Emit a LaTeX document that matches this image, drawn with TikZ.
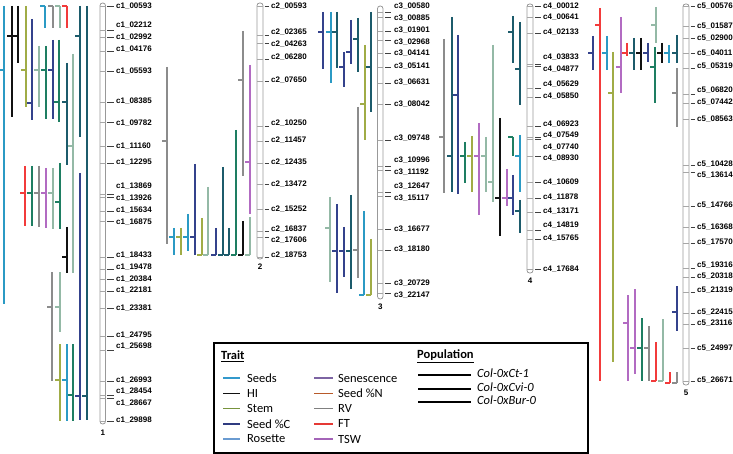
\documentclass[tikz,border=0pt]{standalone}
\usepackage{fontspec}
\setmainfont{Carlito}
\newfontfamily\mkfont{Liberation Sans}
\usetikzlibrary{positioning}

\definecolor{seeds}{HTML}{2B9AC4}
\definecolor{hi}{HTML}{111111}
\definecolor{stem}{HTML}{A0AC46}
\definecolor{seedc}{HTML}{34428C}
\definecolor{teal}{HTML}{1C5B6B}
\definecolor{grn}{HTML}{1E7E62}
\definecolor{sage}{HTML}{94B9A6}
\definecolor{rv}{HTML}{8C8C8C}
\definecolor{ft}{HTML}{F23B3B}
\definecolor{tsw}{HTML}{B26BC2}
% legend colours
\definecolor{kseeds}{HTML}{3399CC}
\definecolor{kstem}{HTML}{77933C}
\definecolor{kseedc}{HTML}{2F3B80}
\definecolor{kros}{HTML}{6A9BD1}
\definecolor{ksen}{HTML}{7D64A3}
\definecolor{kseedn}{HTML}{B85A2A}
\definecolor{krv}{HTML}{808080}
\definecolor{kft}{HTML}{E53935}
\definecolor{ktsw}{HTML}{A464B8}

\begin{document}
\begin{tikzpicture}[x=1pt, y=-1pt,
  chrom/.style={draw=gray!80, fill=white, line width=0.8pt, rounded corners=2.6pt},
  mk/.style={draw=gray!70, line width=0.7pt},
  lead/.style={draw=black!75, line width=0.6pt},
  lbl/.style={anchor=west, inner sep=0pt, font=\mkfont\bfseries\fontsize{8}{9}\selectfont},
  num/.style={inner sep=0pt, font=\mkfont\bfseries\fontsize{8}{9}\selectfont},
  qtl/.style={draw=#1, line width=1.7pt},
  key/.style={draw=#1, line width=1.5pt},
  ktxt/.style={anchor=west, inner sep=0pt, font=\fontsize{12.5}{14}\selectfont}
]
\useasboundingbox (0,0) rectangle (733,454);

% ---- Chromosome 1 ----
\draw[chrom] (100,3) rectangle (105.5,424);
\foreach \ty/\ly/\nm in {6/6/00593, 30/25/02212, 37/37/02992, 51/49/04176, 71/71/05593,
    102/101/08385, 122/123/09782, 146/146/11160, 163/162/12295, 194/186/13869,
    197/198/13926, 211/210/15634, 221/222/16875, 257/255/18433, 269/267/19478,
    279/279/20384, 291/290/22181, 308/308/23381, 336/335/24795, 350/346/25698,
    381/380/26993, 395/391/28454, 398/403/28667, 421/420/29898} {
  \draw[mk] (100,\ty) -- (105.5,\ty);
  \draw[lead] (107,\ty) -- (114,\ty);
  \node[lbl] (c1-\nm) at (116,\ly) {c1\_\nm};
}
\node[num] (chr1) at (102.8,433) {1};

\foreach \x/\ya/\yb/\yp/\c in {4/6/304/70/seeds, 12/6/117/36/hi, 18/6/63/36/hi,
    26/6/107/70/stem, 32/19/120/103/seedc, 45/6/28/6/seeds, 53/6/28/6/rv,
    60/6/28/6/sage, 67/6/28/6/ft, 39/46/107/70/sage, 46/46/119/70/grn,
    53/40/119/70/seedc, 59/40/122/102/grn, 67/63/165/102/teal, 73/54/273/146/sage,
    80/6/137/36/teal, 80/173/420/396/seedc, 87/6/420/396/teal,
    25/166/226/193/ft, 32/166/226/193/grn, 39/166/227/193/rv, 46/168/228/193/tsw,
    53/168/229/193/sage, 60/163/229/202/grn, 67/227/273/257/hi,
    52/272/381/307/rv, 60/272/332/307/sage, 60/344/421/380/stem,
    67/344/421/380/seeds, 73/344/421/395/grn} {
  \draw[qtl=\c] (\x,\ya) -- (\x,\yb) (\x,\yp) -- ++(-5,0);
}

% ---- Chromosome 2 ----
\draw[chrom] (257,3) rectangle (263,259);
\foreach \ty/\ly/\nm in {6/6/00593, 35/32/02365, 43/44/04263, 59/57/06280, 81/80/07650,
    126/123/10250, 141/140/11457, 163/162/12435, 184/184/13472, 209/209/15252,
    231/229/16837, 237/240/17606, 257/255/18753} {
  \draw[mk] (257,\ty) -- (263,\ty);
  \draw[lead] (264.5,\ty) -- (269,\ty);
  \node[lbl] (c2-\nm) at (271,\ly) {c2\_\nm};
}
\node[num] (chr2) at (260,267) {2};

\foreach \x/\ya/\yb/\yp/\c in {167/67/244/141/rv, 174/228/255/237/seeds,
    181/228/255/237/stem, 188/214/251/237/seeds, 195/164/255/237/seedc,
    202/218/255/255/stem, 208/187/255/255/sage, 216/228/255/255/seedc,
    223/167/255/255/teal, 229/228/255/255/teal, 236/130/255/255/grn,
    243/221/255/255/hi, 243/31/176/80/rv, 250/65/214/162/tsw, 250/217/255/255/sage} {
  \draw[qtl=\c] (\x,\ya) -- (\x,\yb) (\x,\yp) -- ++(-5,0);
}

% ---- Chromosome 3 ----
\draw[chrom] (377.5,6) rectangle (383,299);
\foreach \ty/\ly/\nm in {12/6/00580, 17/18/00885, 31/30/01901, 40/42/02968, 53/53/04141,
    67/66/05141, 83/82/06631, 104/104/08042, 140/138/09748, 166/160/10996,
    170/172/11192, 192/186/12647, 196/198/15117, 229/229/16677, 250/249/18180,
    283/283/20729, 293/295/22147} {
  \draw[mk] (377.5,\ty) -- (383,\ty);
  \draw[lead] (385,\ty) -- (391,\ty);
  \node[lbl] (c3-\nm) at (394,\ly) {c3\_\nm};
}
\node[num] (chr3) at (380.3,307) {3};

\foreach \x/\ya/\yb/\yp/\c in {323/12/69/32/seedc, 331/12/83/32/seeds,
    337/12/68/32/teal, 344/52/87/67/seedc, 351/20/64/52/seedc, 358/18/72/39/teal,
    365/45/140/104/stem, 371/12/112/67/teal, 358/107/278/250/rv,
    330/197/282/228/sage, 337/204/293/251/seedc, 344/227/277/251/seedc,
    351/195/289/251/teal, 364/211/295/295/seeds, 371/239/295/295/stem,
    444/39/193/137/rv} {
  \draw[qtl=\c] (\x,\ya) -- (\x,\yb) (\x,\yp) -- ++(-5,0);
}

% ---- Chromosome 4 ----
\draw[chrom] (527,4) rectangle (533,273);
\foreach \ty/\ly/\nm in {6/6/00012, 17/17/00641, 33/32/02133, 64/57/03833, 66/69/04877,
    88/84/05629, 97/96/05850, 126/124/06923, 137/135/07549, 139/147/07740,
    156/158/08930, 182/182/10609, 198/197/11878, 212/211/13171, 230/225/14819,
    239/238/15765, 269/269/17684} {
  \draw[mk] (527,\ty) -- (533,\ty);
  \draw[lead] (535,\ty) -- (541,\ty);
  \node[lbl] (c4-\nm) at (543,\ly) {c4\_\nm};
}
\node[num] (chr4) at (530,281) {4};

\foreach \x/\ya/\yb/\yp/\c in {452/17/192/156/teal, 458/35/194/95/seedc,
    465/142/183/156/grn, 472/136/192/156/stem, 479/123/215/156/tsw,
    486/137/192/156/sage, 493/45/202/182/sage, 500/118/236/198/hi,
    507/169/206/198/tsw, 513/175/215/198/seedc, 513/16/63/32/teal,
    520/22/105/69/teal, 513/137/156/137/grn, 520/135/192/156/seeds,
    520/200/233/211/teal} {
  \draw[qtl=\c] (\x,\ya) -- (\x,\yb) (\x,\yp) -- ++(-5,0);
}

% ---- Chromosome 5 ----
\draw[chrom] (683,4) rectangle (689,385);
\foreach \ty/\ly/\nm in {6/6/00576, 26/26/01587, 38/38/02900, 53/53/04011, 68/66/05319,
    94/90/06820, 103/102/07442, 119/119/08563, 165/164/10428, 172/175/13614,
    206/205/14766, 227/227/16368, 243/242/17570, 268/265/19316, 277/276/20318,
    292/290/21319, 313/312/22415, 324/323/23116, 348/348/24997, 381/380/26671} {
  \draw[mk] (683,\ty) -- (689,\ty);
  \draw[lead] (690.5,\ty) -- (695,\ty);
  \node[lbl] (c5-\nm) at (697,\ly) {c5\_\nm};
}
\node[num] (chr5) at (686,393) {5};

\foreach \x/\ya/\yb/\yp/\c in {593/36/70/53/seedc, 600/8/381/25/ft,
    607/36/70/53/seeds, 613/52/362/93/stem, 621/17/93/67/tsw, 627/43/56/53/ft,
    634/38/70/53/teal, 641/38/70/53/hi, 648/43/62/53/seedc, 656/7/43/25/sage,
    655/47/103/67/grn, 662/43/63/53/hi, 669/45/63/53/seeds, 677/35/63/53/teal,
    677/68/127/93/rv, 677/286/331/312/seedc, 628/295/381/323/tsw,
    635/289/374/348/tsw, 642/318/381/348/grn, 649/326/381/348/rv,
    656/342/381/381/ft, 663/319/381/381/sage, 670/372/383/383/ft,
    677/372/383/383/rv} {
  \draw[qtl=\c] (\x,\ya) -- (\x,\yb) (\x,\yp) -- ++(-5,0);
}

% ---- Legend ----
\draw[line width=1.6pt] (214,343) rectangle (588,453);
\node[ktxt, font=\bfseries\fontsize{12.5}{14}\selectfont] (trait) at (221,356) {\underline{Trait}};
\foreach \c/\t [count=\i] in {kseeds/Seeds, hi/HI, kstem/Stem, kseedc/Seed \%C, kros/Rosette} {
  \draw[key=\c] (223,{378+(\i-1)*15.25}) -- (240,{378+(\i-1)*15.25});
  \node[ktxt] (ka\i) at (247,{378+(\i-1)*15.25}) {\t};
}
\foreach \c/\t [count=\i] in {ksen/Senescence, kseedn/Seed \%N, krv/RV, kft/FT, ktsw/TSW} {
  \draw[key=\c] (314,{378+(\i-1)*15.25}) -- (333,{378+(\i-1)*15.25});
  \node[ktxt] (kb\i) at (338,{378+(\i-1)*15.25}) {\t};
}
\node[ktxt, font=\bfseries\fontsize{12.5}{14}\selectfont] (pop) at (417,356) {\underline{Population}};
\foreach \y/\t [count=\i] in {375/Col-0xCt-1, 389/Col-0xCvi-0, 402/Col-0xBur-0} {
  \draw[line width=1.3pt] (418,\y) -- (471,\y);
  \node[ktxt, font=\itshape\fontsize{12.5}{14}\selectfont] (kp\i) at (477,{\y-2}) {\t};
}

\end{tikzpicture}
\end{document}
